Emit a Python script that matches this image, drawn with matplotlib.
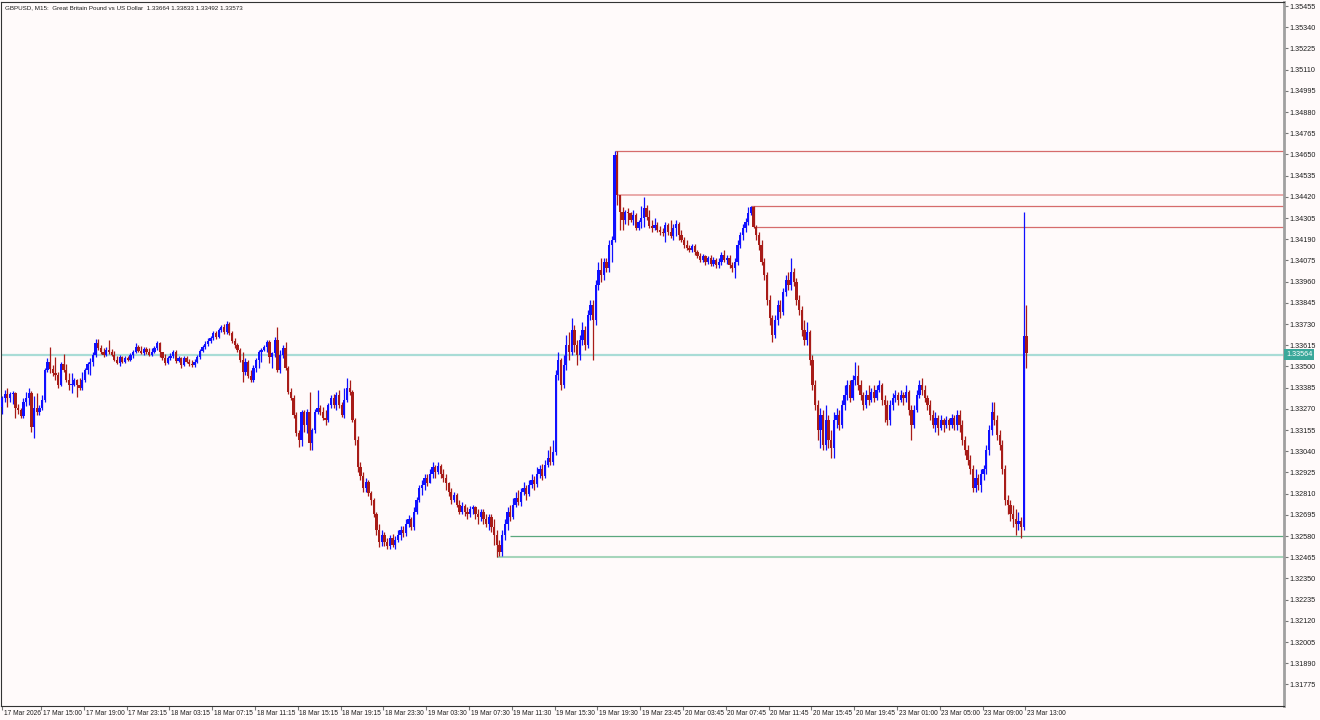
import matplotlib
matplotlib.use("Agg")
import matplotlib.pyplot as plt
import matplotlib.transforms as mtransforms
import numpy as np

title = "GBPUSD, M15:  Great Britain Pound vs US Dollar  1.33664 1.33833 1.33492 1.33573"

# M15 bars, oldest first; each bar opens at the previous close
first_open = 1.33282
closes = [
    1.33331, 1.33352, 1.33331, 1.33352, 1.33358, 1.33277, 1.33266, 1.33233, 1.33309, 1.33331,
    1.33358, 1.33174, 1.33277, 1.33255, 1.33277, 1.33320, 1.33483, 1.33526, 1.33488, 1.33467,
    1.33456, 1.33401, 1.33515, 1.33483, 1.33428, 1.33401, 1.33401, 1.33428, 1.33401, 1.33385,
    1.33428, 1.33483, 1.33515, 1.33526, 1.33564, 1.33629, 1.33602, 1.33580, 1.33564, 1.33591,
    1.33580, 1.33564, 1.33537, 1.33521, 1.33553, 1.33526, 1.33548, 1.33537, 1.33564, 1.33580,
    1.33607, 1.33586, 1.33575, 1.33596, 1.33580, 1.33564, 1.33580, 1.33602, 1.33629, 1.33580,
    1.33548, 1.33521, 1.33548, 1.33558, 1.33580, 1.33532, 1.33548, 1.33510, 1.33548, 1.33526,
    1.33515, 1.33510, 1.33526, 1.33553, 1.33586, 1.33607, 1.33623, 1.33640, 1.33656, 1.33683,
    1.33661, 1.33699, 1.33716, 1.33688, 1.33732, 1.33683, 1.33640, 1.33618, 1.33591, 1.33537,
    1.33472, 1.33526, 1.33450, 1.33428, 1.33494, 1.33537, 1.33580, 1.33591, 1.33607, 1.33634,
    1.33553, 1.33575, 1.33645, 1.33483, 1.33564, 1.33602, 1.33494, 1.33363, 1.33331, 1.33239,
    1.33141, 1.33103, 1.33255, 1.33185, 1.33255, 1.33087, 1.33157, 1.33255, 1.33277, 1.33255,
    1.33223, 1.33212, 1.33293, 1.33331, 1.33293, 1.33347, 1.33293, 1.33239, 1.33320, 1.33385,
    1.33363, 1.33212, 1.33103, 1.32952, 1.32908, 1.32843, 1.32875, 1.32816, 1.32778, 1.32697,
    1.32615, 1.32550, 1.32588, 1.32550, 1.32528, 1.32572, 1.32534, 1.32561, 1.32588, 1.32615,
    1.32599, 1.32648, 1.32670, 1.32627, 1.32713, 1.32778, 1.32843, 1.32859, 1.32897, 1.32870,
    1.32914, 1.32952, 1.32930, 1.32962, 1.32914, 1.32897, 1.32865, 1.32821, 1.32778, 1.32805,
    1.32751, 1.32713, 1.32745, 1.32713, 1.32697, 1.32724, 1.32735, 1.32697, 1.32681, 1.32713,
    1.32670, 1.32648, 1.32681, 1.32627, 1.32588, 1.32534, 1.32496, 1.32588, 1.32643, 1.32713,
    1.32681, 1.32751, 1.32789, 1.32767, 1.32821, 1.32843, 1.32810, 1.32859, 1.32886, 1.32864,
    1.32914, 1.32941, 1.32908, 1.32968, 1.33006, 1.32984, 1.33038, 1.33456, 1.33537, 1.33401,
    1.33510, 1.33618, 1.33580, 1.33699, 1.33618, 1.33564, 1.33645, 1.33699, 1.33618, 1.33781,
    1.33835, 1.33754, 1.33943, 1.34025, 1.33998, 1.34068, 1.34036, 1.34160, 1.34187, 1.34648,
    1.34431, 1.34339, 1.34296, 1.34339, 1.34334, 1.34296, 1.34323, 1.34252, 1.34285, 1.34307,
    1.34361, 1.34312, 1.34263, 1.34252, 1.34269, 1.34241, 1.34230, 1.34225, 1.34269, 1.34230,
    1.34208, 1.34252, 1.34274, 1.34214, 1.34187, 1.34160, 1.34144, 1.34133, 1.34154, 1.34122,
    1.34100, 1.34079, 1.34100, 1.34068, 1.34090, 1.34057, 1.34079, 1.34052, 1.34068, 1.34106,
    1.34079, 1.34090, 1.34052, 1.34036, 1.34068, 1.34160, 1.34214, 1.34252, 1.34285, 1.34334,
    1.34366, 1.34258, 1.34214, 1.34160, 1.34068, 1.33998, 1.33862, 1.33765, 1.33672, 1.33754,
    1.33835, 1.33797, 1.33905, 1.33970, 1.33943, 1.34014, 1.33959, 1.33862, 1.33808, 1.33699,
    1.33645, 1.33688, 1.33537, 1.33401, 1.33293, 1.33157, 1.33239, 1.33076, 1.33212, 1.33103,
    1.33060, 1.33212, 1.33239, 1.33185, 1.33293, 1.33347, 1.33401, 1.33331, 1.33428, 1.33450,
    1.33401, 1.33347, 1.33293, 1.33347, 1.33320, 1.33363, 1.33331, 1.33374, 1.33401, 1.33320,
    1.33293, 1.33212, 1.33293, 1.33331, 1.33347, 1.33320, 1.33347, 1.33331, 1.33363, 1.33266,
    1.33185, 1.33266, 1.33347, 1.33401, 1.33374, 1.33331, 1.33293, 1.33239, 1.33185, 1.33223,
    1.33168, 1.33212, 1.33185, 1.33212, 1.33185, 1.33223, 1.33185, 1.33239, 1.33185, 1.33103,
    1.33049, 1.32995, 1.32941, 1.32843, 1.32897, 1.32859, 1.32914, 1.32941, 1.33049, 1.33157,
    1.33255, 1.33212, 1.33130, 1.33076, 1.32941, 1.32778, 1.32751, 1.32697, 1.32670, 1.32643,
    1.32659, 1.32627, 1.33664, 1.33573]
highs = [
    1.33341, 1.33374, 1.33385, 1.33363, 1.33369, 1.33363, 1.33298, 1.33277, 1.33331, 1.33363,
    1.33385, 1.33369, 1.33341, 1.33358, 1.33293, 1.33347, 1.33494, 1.33548, 1.33607, 1.33510,
    1.33553, 1.33472, 1.33526, 1.33569, 1.33515, 1.33467, 1.33467, 1.33440, 1.33434, 1.33440,
    1.33472, 1.33494, 1.33526, 1.33548, 1.33580, 1.33650, 1.33650, 1.33618, 1.33602, 1.33607,
    1.33645, 1.33596, 1.33586, 1.33558, 1.33564, 1.33558, 1.33558, 1.33558, 1.33575, 1.33591,
    1.33629, 1.33618, 1.33612, 1.33607, 1.33607, 1.33602, 1.33602, 1.33612, 1.33640, 1.33634,
    1.33580, 1.33569, 1.33558, 1.33575, 1.33591, 1.33591, 1.33558, 1.33553, 1.33558, 1.33558,
    1.33542, 1.33537, 1.33542, 1.33564, 1.33596, 1.33618, 1.33640, 1.33656, 1.33666, 1.33694,
    1.33694, 1.33711, 1.33727, 1.33732, 1.33749, 1.33743, 1.33694, 1.33656, 1.33629, 1.33602,
    1.33580, 1.33548, 1.33537, 1.33483, 1.33510, 1.33548, 1.33591, 1.33602, 1.33618, 1.33645,
    1.33645, 1.33580, 1.33661, 1.33716, 1.33591, 1.33618, 1.33634, 1.33504, 1.33385, 1.33347,
    1.33255, 1.33157, 1.33266, 1.33266, 1.33271, 1.33363, 1.33168, 1.33271, 1.33374, 1.33293,
    1.33282, 1.33266, 1.33304, 1.33347, 1.33352, 1.33363, 1.33374, 1.33309, 1.33385, 1.33440,
    1.33428, 1.33374, 1.33223, 1.33125, 1.32984, 1.32930, 1.32897, 1.32886, 1.32827, 1.32789,
    1.32713, 1.32643, 1.32615, 1.32604, 1.32572, 1.32588, 1.32593, 1.32582, 1.32615, 1.32637,
    1.32637, 1.32670, 1.32692, 1.32681, 1.32735, 1.32794, 1.32859, 1.32886, 1.32919, 1.32914,
    1.32941, 1.32979, 1.32968, 1.32984, 1.32973, 1.32941, 1.32914, 1.32875, 1.32843, 1.32821,
    1.32816, 1.32778, 1.32762, 1.32756, 1.32735, 1.32745, 1.32751, 1.32745, 1.32724, 1.32724,
    1.32724, 1.32697, 1.32702, 1.32697, 1.32670, 1.32615, 1.32561, 1.32615, 1.32670, 1.32735,
    1.32751, 1.32789, 1.32821, 1.32832, 1.32843, 1.32875, 1.32859, 1.32886, 1.32914, 1.32908,
    1.32952, 1.32968, 1.32973, 1.32995, 1.33049, 1.33071, 1.33103, 1.33483, 1.33580, 1.33548,
    1.33564, 1.33672, 1.33688, 1.33765, 1.33727, 1.33645, 1.33672, 1.33743, 1.33721, 1.33808,
    1.33862, 1.33862, 1.33970, 1.34068, 1.34090, 1.34090, 1.34090, 1.34187, 1.34208, 1.34670,
    1.34670, 1.34431, 1.34366, 1.34350, 1.34361, 1.34339, 1.34350, 1.34334, 1.34296, 1.34371,
    1.34420, 1.34377, 1.34350, 1.34296, 1.34307, 1.34285, 1.34263, 1.34252, 1.34285, 1.34280,
    1.34296, 1.34274, 1.34296, 1.34285, 1.34241, 1.34203, 1.34187, 1.34160, 1.34165, 1.34165,
    1.34133, 1.34117, 1.34111, 1.34106, 1.34100, 1.34106, 1.34095, 1.34090, 1.34090, 1.34122,
    1.34133, 1.34106, 1.34106, 1.34068, 1.34090, 1.34187, 1.34230, 1.34274, 1.34307, 1.34366,
    1.34371, 1.34371, 1.34269, 1.34230, 1.34187, 1.34090, 1.34014, 1.33889, 1.33781, 1.33781,
    1.33862, 1.33862, 1.33927, 1.33998, 1.34014, 1.34090, 1.34036, 1.33982, 1.33889, 1.33829,
    1.33754, 1.33743, 1.33699, 1.33564, 1.33428, 1.33320, 1.33277, 1.33266, 1.33293, 1.33239,
    1.33157, 1.33255, 1.33277, 1.33266, 1.33320, 1.33401, 1.33428, 1.33428, 1.33456, 1.33526,
    1.33510, 1.33428, 1.33363, 1.33374, 1.33401, 1.33385, 1.33401, 1.33401, 1.33428, 1.33412,
    1.33347, 1.33320, 1.33320, 1.33358, 1.33374, 1.33363, 1.33374, 1.33363, 1.33401, 1.33374,
    1.33293, 1.33293, 1.33374, 1.33428, 1.33440, 1.33401, 1.33347, 1.33320, 1.33266, 1.33255,
    1.33239, 1.33239, 1.33223, 1.33233, 1.33223, 1.33244, 1.33239, 1.33266, 1.33266, 1.33212,
    1.33125, 1.33076, 1.33022, 1.32968, 1.32941, 1.32914, 1.32941, 1.32968, 1.33076, 1.33185,
    1.33309, 1.33309, 1.33239, 1.33157, 1.33103, 1.32968, 1.32805, 1.32778, 1.32751, 1.32724,
    1.32713, 1.32681, 1.34339, 1.33833]
lows = [
    1.33244, 1.33309, 1.33282, 1.33309, 1.33298, 1.33223, 1.33244, 1.33223, 1.33223, 1.33287,
    1.33293, 1.33146, 1.33114, 1.33239, 1.33239, 1.33266, 1.33309, 1.33472, 1.33467, 1.33450,
    1.33428, 1.33385, 1.33396, 1.33472, 1.33417, 1.33374, 1.33358, 1.33396, 1.33336, 1.33374,
    1.33374, 1.33417, 1.33461, 1.33456, 1.33504, 1.33553, 1.33591, 1.33569, 1.33553, 1.33558,
    1.33569, 1.33558, 1.33532, 1.33515, 1.33504, 1.33521, 1.33521, 1.33532, 1.33532, 1.33548,
    1.33575, 1.33580, 1.33569, 1.33564, 1.33569, 1.33558, 1.33558, 1.33575, 1.33591, 1.33553,
    1.33537, 1.33510, 1.33515, 1.33537, 1.33548, 1.33521, 1.33526, 1.33494, 1.33504, 1.33521,
    1.33504, 1.33499, 1.33499, 1.33521, 1.33542, 1.33580, 1.33596, 1.33612, 1.33629, 1.33645,
    1.33650, 1.33656, 1.33688, 1.33677, 1.33677, 1.33672, 1.33629, 1.33602, 1.33580, 1.33526,
    1.33417, 1.33456, 1.33440, 1.33417, 1.33417, 1.33472, 1.33494, 1.33526, 1.33586, 1.33580,
    1.33521, 1.33494, 1.33553, 1.33472, 1.33467, 1.33548, 1.33483, 1.33352, 1.33320, 1.33223,
    1.33124, 1.33065, 1.33070, 1.33146, 1.33141, 1.33049, 1.33049, 1.33141, 1.33244, 1.33239,
    1.33212, 1.33185, 1.33201, 1.33277, 1.33277, 1.33266, 1.33277, 1.33228, 1.33223, 1.33309,
    1.33347, 1.33196, 1.33076, 1.32930, 1.32886, 1.32821, 1.32821, 1.32799, 1.32751, 1.32681,
    1.32588, 1.32518, 1.32528, 1.32528, 1.32507, 1.32507, 1.32518, 1.32507, 1.32550, 1.32561,
    1.32577, 1.32582, 1.32627, 1.32615, 1.32615, 1.32697, 1.32762, 1.32805, 1.32832, 1.32854,
    1.32865, 1.32897, 1.32897, 1.32914, 1.32897, 1.32875, 1.32832, 1.32799, 1.32756, 1.32762,
    1.32735, 1.32697, 1.32697, 1.32691, 1.32670, 1.32681, 1.32702, 1.32670, 1.32648, 1.32659,
    1.32643, 1.32627, 1.32615, 1.32604, 1.32534, 1.32464, 1.32474, 1.32474, 1.32561, 1.32615,
    1.32659, 1.32670, 1.32735, 1.32751, 1.32745, 1.32805, 1.32778, 1.32799, 1.32843, 1.32832,
    1.32848, 1.32897, 1.32886, 1.32897, 1.32952, 1.32968, 1.32968, 1.33022, 1.33428, 1.33374,
    1.33385, 1.33483, 1.33537, 1.33564, 1.33580, 1.33510, 1.33537, 1.33618, 1.33591, 1.33602,
    1.33754, 1.33537, 1.33727, 1.33916, 1.33959, 1.33970, 1.34014, 1.34014, 1.34068, 1.34176,
    1.34377, 1.34241, 1.34241, 1.34274, 1.34269, 1.34285, 1.34269, 1.34241, 1.34241, 1.34252,
    1.34258, 1.34296, 1.34252, 1.34230, 1.34241, 1.34230, 1.34214, 1.34208, 1.34176, 1.34214,
    1.34197, 1.34187, 1.34208, 1.34187, 1.34176, 1.34144, 1.34133, 1.34122, 1.34122, 1.34106,
    1.34090, 1.34068, 1.34068, 1.34052, 1.34057, 1.34046, 1.34046, 1.34036, 1.34036, 1.34052,
    1.34068, 1.34057, 1.34036, 1.34014, 1.33982, 1.34052, 1.34144, 1.34187, 1.34230, 1.34269,
    1.34323, 1.34252, 1.34187, 1.34133, 1.34052, 1.33970, 1.33835, 1.33727, 1.33634, 1.33656,
    1.33727, 1.33765, 1.33781, 1.33883, 1.33916, 1.33916, 1.33937, 1.33835, 1.33781, 1.33666,
    1.33618, 1.33618, 1.33510, 1.33374, 1.33266, 1.33103, 1.33060, 1.33049, 1.33049, 1.33060,
    1.33006, 1.33006, 1.33168, 1.33157, 1.33168, 1.33266, 1.33320, 1.33309, 1.33320, 1.33401,
    1.33374, 1.33320, 1.33266, 1.33277, 1.33293, 1.33309, 1.33309, 1.33320, 1.33363, 1.33293,
    1.33201, 1.33185, 1.33185, 1.33266, 1.33309, 1.33293, 1.33309, 1.33293, 1.33309, 1.33239,
    1.33103, 1.33168, 1.33255, 1.33331, 1.33347, 1.33309, 1.33266, 1.33212, 1.33168, 1.33146,
    1.33130, 1.33157, 1.33146, 1.33168, 1.33157, 1.33168, 1.33157, 1.33157, 1.33146, 1.33076,
    1.33022, 1.32968, 1.32914, 1.32821, 1.32821, 1.32832, 1.32821, 1.32886, 1.32914, 1.33022,
    1.33130, 1.33185, 1.33103, 1.33049, 1.32914, 1.32751, 1.32697, 1.32659, 1.32627, 1.32588,
    1.32615, 1.32572, 1.32615, 1.33492]

time_labels = ["17 Mar 2026", "17 Mar 15:00", "17 Mar 19:00", "17 Mar 23:15", "18 Mar 03:15",
               "18 Mar 07:15", "18 Mar 11:15", "18 Mar 15:15", "18 Mar 19:15", "18 Mar 23:30",
               "19 Mar 03:30", "19 Mar 07:30", "19 Mar 11:30", "19 Mar 15:30", "19 Mar 19:30",
               "19 Mar 23:45", "20 Mar 03:45", "20 Mar 07:45", "20 Mar 11:45", "20 Mar 15:45",
               "20 Mar 19:45", "23 Mar 01:00", "23 Mar 05:00", "23 Mar 09:00", "23 Mar 13:00"]

price_labels = [1.35455, 1.35340, 1.35225, 1.35110, 1.34995, 1.34880, 1.34765, 1.34650, 1.34535,
                1.34420, 1.34305, 1.34190, 1.34075, 1.33960, 1.33845, 1.33730, 1.33615, 1.33500,
                1.33385, 1.33270, 1.33155, 1.33040, 1.32925, 1.32810, 1.32695, 1.32580, 1.32465,
                1.32350, 1.32235, 1.32120, 1.32005, 1.31890, 1.31775]

bid = 1.33564
# zone borders drawn to the right edge: (first bar, price, colour, width)
zone_lines = [(229, 1.34668, "#d66b6b", 0.9),
              (230, 1.34431, "#eaa9a9", 1.4),
              (280, 1.34371, "#d66b6b", 0.9),
              (281, 1.34258, "#d66b6b", 0.9),
              (190, 1.32582, "#5aa77d", 0.9),
              (185, 1.32464, "#a6d5bb", 1.5)]

bg = "#fffafa"
bull = "#1010ff"
bear = "#a81c18"
txt = "#1e1e1e"

opens = np.array([first_open] + closes[:-1])
closes = np.array(closes)
highs = np.array(highs)
lows = np.array(lows)
x = np.arange(len(closes))
up = closes >= opens

fig = plt.figure(figsize=(13.2, 7.2), dpi=100, facecolor=bg)
ax = fig.add_axes([1 / 1320, 14 / 720, 1283 / 1320, 704 / 720], facecolor=bg)

body = np.maximum(np.abs(closes - opens), 0.00004)
for mask, col in [(up, bull), (~up, bear)]:
    ax.vlines(x[mask], lows[mask], highs[mask], color=col, lw=0.9, zorder=3)
    ax.bar(x[mask], body[mask], bottom=np.minimum(opens, closes)[mask], width=0.85,
           color=col, lw=0, zorder=4)

ax.set_xlim(-0.37, 479.3)
ax.set_ylim(1.31658, 1.35477)

ax.axhline(bid, color="#a9dcd6", lw=1.6, zorder=2)
for start, price, col, w in zone_lines:
    ax.plot([start, 480], [price, price], color=col, lw=w, zorder=2, solid_capstyle="butt")

for s in ["left", "top", "bottom"]:
    ax.spines[s].set_color("#333333")
    ax.spines[s].set_linewidth(0.8)
ax.spines["right"].set_color("#a0a0a0")
ax.spines["right"].set_linewidth(2)

ax.yaxis.tick_right()
ax.set_yticks(price_labels)
ax.set_yticklabels([f"{p:.5f}" for p in price_labels])
ax.tick_params(axis="y", direction="out", length=3, width=0.8, color="#777777",
               labelsize=5.2, pad=1, labelcolor=txt)
for t in ax.get_yticklabels():
    t.set_fontfamily("Liberation Sans")

label_bars = [0] + [16 * k - 1.4 for k in range(1, len(time_labels))]
ax.set_xticks(label_bars)
ax.set_xticklabels([])
ax.tick_params(axis="x", direction="out", length=3, width=0.8, color="#777777")
for b, lab in zip(label_bars, time_labels):
    ax.annotate(lab, (b, 0), xycoords=("data", "axes fraction"),
                xytext=(1.2, -3), textcoords="offset points", ha="left", va="top",
                fontsize=4.8, family="Liberation Sans", color=txt)

ax.text(0.003, 0.996, title, transform=ax.transAxes, ha="left", va="top",
        fontsize=4.5, family="Liberation Sans", color=txt)

trans = mtransforms.blended_transform_factory(ax.transAxes, ax.transData)
ax.text(1.0015, bid, f"{bid:.5f}", transform=trans, ha="left", va="center", fontsize=5.2,
        family="Liberation Sans", color="white",
        bbox=dict(boxstyle="square,pad=0.3", fc="#3aa89a", ec="none"))

fig.savefig("out.png", dpi=100, facecolor=bg)
